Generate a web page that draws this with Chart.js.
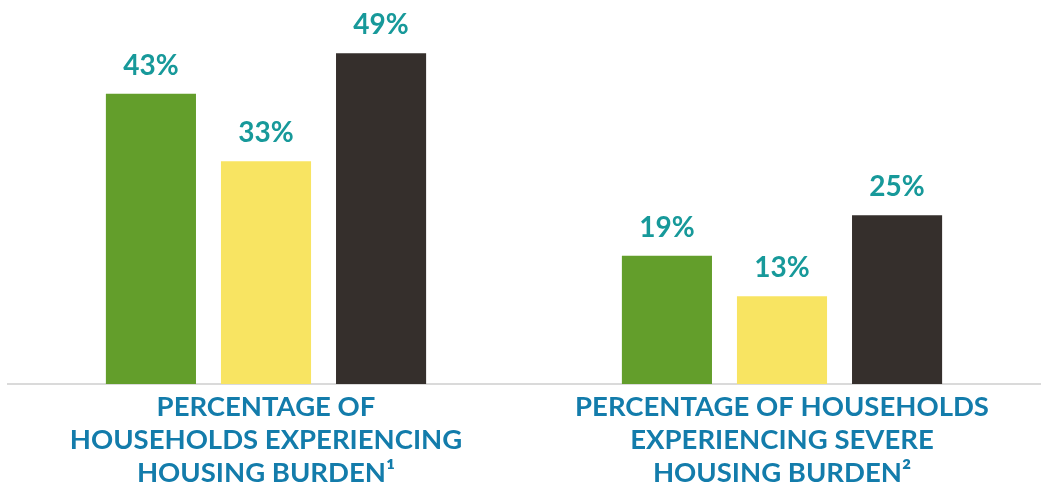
<!DOCTYPE html>
<html>
<head>
<meta charset="utf-8">
<script src="https://cdn.jsdelivr.net/npm/chart.js@4/dist/chart.umd.min.js"></script>
<style>
  html, body { margin: 0; padding: 0; background: #fff; }
  #wrap { width: 1042px; height: 486px; }
</style>
</head>
<body>
<div id="wrap"><canvas id="chart"></canvas></div>
<script>
// categories (multi-line labels) and series values
const categories = [
  ['PERCENTAGE OF', 'HOUSEHOLDS EXPERIENCING', 'HOUSING BURDEN\u00B9'],
  ['PERCENTAGE OF HOUSEHOLDS', 'EXPERIENCING SEVERE', 'HOUSING BURDEN\u00B2']
];
const seriesGreen = [43, 19];
const seriesYellow = [33, 13];
const seriesDark = [49, 25];

const barColors = ['#639e2b', '#f8e462', '#352f2c'];

// draws the "NN%" labels above each bar
const valueLabels = {
  id: 'valueLabels',
  afterDatasetsDraw(chart) {
    const ctx = chart.ctx;
    ctx.save();
    ctx.fillStyle = '#17999a';
    ctx.font = 'bold 28px Lato, sans-serif';
    ctx.textAlign = 'center';
    ctx.textBaseline = 'alphabetic';
    chart.data.datasets.forEach((ds, i) => {
      chart.getDatasetMeta(i).data.forEach((bar, j) => {
        ctx.fillText(ds.data[j] + '%', bar.x, bar.y - 19);
      });
    });
    ctx.restore();
  }
};

new Chart(document.getElementById('chart'), {
  type: 'bar',
  data: {
    labels: categories,
    datasets: [
      { data: seriesGreen, backgroundColor: barColors[0] },
      { data: seriesYellow, backgroundColor: barColors[1] },
      { data: seriesDark, backgroundColor: barColors[2] }
    ]
  },
  options: {
    responsive: true,
    maintainAspectRatio: false,
    animation: false,
    categoryPercentage: 0.669,
    barPercentage: 0.783,
    layout: { padding: { top: 6, left: 8, right: 2, bottom: 0 } },
    plugins: {
      legend: { display: false },
      tooltip: { enabled: false }
    },
    scales: {
      y: {
        display: false,
        min: 0,
        max: 56
      },
      x: {
        grid: { display: false, drawTicks: false },
        border: { display: true, color: '#dadada', width: 2 },
        ticks: {
          color: '#137cab',
          font: { family: 'Lato, sans-serif', weight: 'bold', size: 27.5, lineHeight: 1.2 },
          padding: 7,
          maxRotation: 0,
          autoSkip: false
        },
        afterFit(scale) { scale.height = 102; }
      }
    }
  },
  plugins: [valueLabels]
});
</script>
</body>
</html>
